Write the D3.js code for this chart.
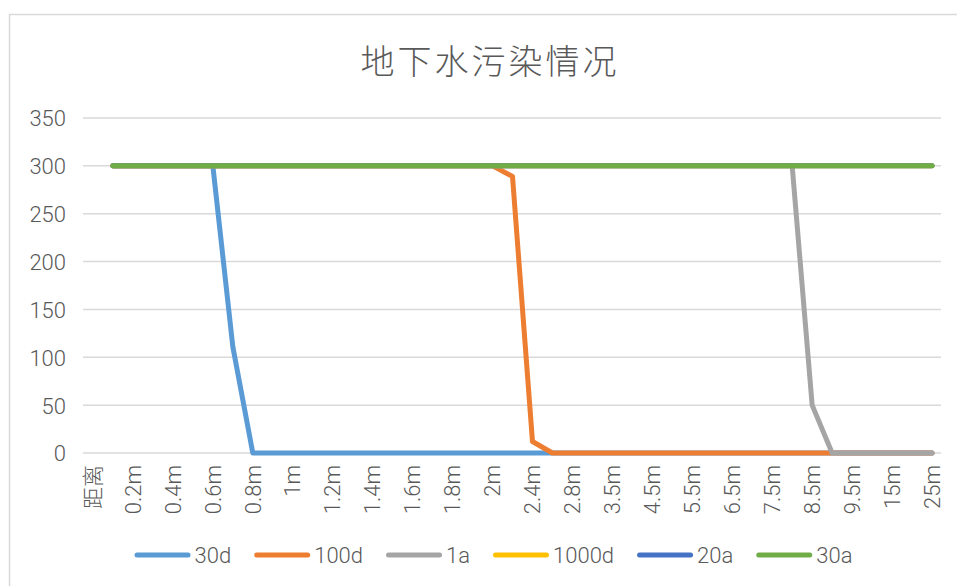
<!DOCTYPE html>
<html>
<head>
<meta charset="utf-8">
<script src="https://cdn.jsdelivr.net/npm/d3@7"></script>
<style>
  html, body { margin: 0; padding: 0; background: #fff; }
  svg { display: block; }
  text { font-family: Roboto, "Liberation Sans", "Noto Sans CJK SC", sans-serif; font-weight: 300; fill: #595959; }
</style>
</head>
<body>
<script>
// Distance categories along the profile (first column is the header cell)
const categories = ["距离", "0.1m", "0.2m", "0.3m", "0.4m", "0.5m", "0.6m", "0.7m", "0.8m", "0.9m",
  "1m", "1.1m", "1.2m", "1.3m", "1.4m", "1.5m", "1.6m", "1.7m", "1.8m", "1.9m",
  "2m", "2.2m", "2.4m", "2.6m", "2.8m", "3m", "3.5m", "4m", "4.5m", "5m",
  "5.5m", "6m", "6.5m", "7m", "7.5m", "8m", "8.5m", "9m", "9.5m", "10m",
  "15m", "20m", "25m"];

// Concentration at each distance, one array per elapsed time
const s30d = [null, 300, 300, 300, 300, 300, 300, 111, 0, 0,
  0, 0, 0, 0, 0, 0, 0, 0, 0, 0,
  0, 0, 0, 0, 0, 0, 0, 0, 0, 0,
  0, 0, 0, 0, 0, 0, 0, 0, 0, 0,
  0, 0, 0];
const s100d = [null, 300, 300, 300, 300, 300, 300, 300, 300, 300,
  300, 300, 300, 300, 300, 300, 300, 300, 300, 300,
  300, 289, 12, 0, 0, 0, 0, 0, 0, 0,
  0, 0, 0, 0, 0, 0, 0, 0, 0, 0,
  0, 0, 0];
const s1a = [null, 300, 300, 300, 300, 300, 300, 300, 300, 300,
  300, 300, 300, 300, 300, 300, 300, 300, 300, 300,
  300, 300, 300, 300, 300, 300, 300, 300, 300, 300,
  300, 300, 300, 300, 300, 300, 50, 0, 0, 0,
  0, 0, 0];
const s1000d = [null, 300, 300, 300, 300, 300, 300, 300, 300, 300,
  300, 300, 300, 300, 300, 300, 300, 300, 300, 300,
  300, 300, 300, 300, 300, 300, 300, 300, 300, 300,
  300, 300, 300, 300, 300, 300, 300, 300, 300, 300,
  300, 300, 300];
const s20a = [null, 300, 300, 300, 300, 300, 300, 300, 300, 300,
  300, 300, 300, 300, 300, 300, 300, 300, 300, 300,
  300, 300, 300, 300, 300, 300, 300, 300, 300, 300,
  300, 300, 300, 300, 300, 300, 300, 300, 300, 300,
  300, 300, 300];
const s30a = [null, 300, 300, 300, 300, 300, 300, 300, 300, 300,
  300, 300, 300, 300, 300, 300, 300, 300, 300, 300,
  300, 300, 300, 300, 300, 300, 300, 300, 300, 300,
  300, 300, 300, 300, 300, 300, 300, 300, 300, 300,
  300, 300, 300];

const seriesNames = ["30d", "100d", "1a", "1000d", "20a", "30a"];
const seriesValues = [s30d, s100d, s1a, s1000d, s20a, s30a];
const seriesColors = ["#5B9BD5", "#ED7D31", "#A5A5A5", "#FFC000", "#4472C4", "#70AD47"];
const yTicks = [0, 50, 100, 150, 200, 250, 300, 350];
const chartTitle = "地下水污染情况";

const W = 957, H = 586;
const plot = { left: 83, right: 942, top: 118, bottom: 453 };
const labelSize = "22px";

const svg = d3.select("body").append("svg").attr("width", W).attr("height", H);

// Chart frame
svg.append("rect")
  .attr("x", 9.5).attr("y", 14.5)
  .attr("width", W + 20).attr("height", H + 20)
  .attr("fill", "#fff").attr("stroke", "#D9D9D9").attr("stroke-width", 1.5);

// Title
svg.append("text")
  .attr("x", 490).attr("y", 59)
  .attr("text-anchor", "middle").attr("dominant-baseline", "central")
  .style("font-family", "'Noto Sans CJK SC', sans-serif")
  .style("font-weight", "300")
  .style("font-size", "34px").style("letter-spacing", "3px")
  .text(chartTitle);

const x = d3.scaleBand().domain(categories).range([plot.left, plot.right]).padding(0);
const y = d3.scaleLinear().domain([0, 350]).range([plot.bottom, plot.top]);
const cx = c => x(c) + x.bandwidth() / 2;

// Horizontal gridlines
svg.append("g").selectAll("line").data(yTicks).join("line")
  .attr("x1", plot.left).attr("x2", plot.right - 1)
  .attr("y1", d => y(d)).attr("y2", d => y(d))
  .attr("stroke", "#D9D9D9").attr("stroke-width", 1.5);

// Value axis
const yAxis = svg.append("g")
  .attr("transform", `translate(${plot.left - 17},0)`)
  .call(d3.axisLeft(y).tickValues(yTicks).tickSize(0).tickPadding(0));
yAxis.select(".domain").remove();
yAxis.selectAll("text")
  .style("font-size", labelSize).attr("fill", "#595959")
  .attr("dy", "0.36em");

// Category axis, every second label shown, rotated
const xAxis = svg.append("g")
  .attr("transform", `translate(0,${plot.bottom})`)
  .call(d3.axisBottom(x).tickValues(categories.filter((d, i) => i % 2 === 0)).tickSize(0));
xAxis.select(".domain").remove();
xAxis.selectAll("text")
  .style("font-size", labelSize).attr("fill", "#595959")
  .attr("transform", "rotate(-90)")
  .attr("text-anchor", "end")
  .attr("x", -12).attr("y", 0)
  .attr("dy", "0.35em");

// Series lines
const line = d3.line()
  .defined(d => d.v !== null)
  .x(d => cx(d.c))
  .y(d => y(d.v));

svg.append("g").selectAll("path")
  .data(seriesValues.map((vals, k) => ({ k, pts: vals.map((v, i) => ({ c: categories[i], v })) })))
  .join("path")
  .attr("d", d => line(d.pts))
  .attr("fill", "none")
  .attr("stroke", d => seriesColors[d.k])
  .attr("stroke-width", 5)
  .attr("stroke-linejoin", "round")
  .attr("stroke-linecap", "round");

// Legend
const legend = svg.append("g");
const swatch = 56, gapText = 4, gapItem = 23, legendY = 555;
let lx = 0;
seriesNames.forEach((name, k) => {
  const g = legend.append("g");
  g.append("line")
    .attr("x1", lx + 2.5).attr("x2", lx + swatch - 2.5)
    .attr("y1", legendY).attr("y2", legendY)
    .attr("stroke", seriesColors[k]).attr("stroke-width", 5)
    .attr("stroke-linecap", "round");
  const t = g.append("text")
    .attr("x", lx + swatch + gapText).attr("y", legendY)
    .attr("dominant-baseline", "central")
    .style("font-size", labelSize)
    .text(name);
  lx += swatch + gapText + t.node().getComputedTextLength() + gapItem;
});
const legendWidth = lx - gapItem;
legend.attr("transform", `translate(${493.5 - legendWidth / 2},0)`);
</script>
</body>
</html>
